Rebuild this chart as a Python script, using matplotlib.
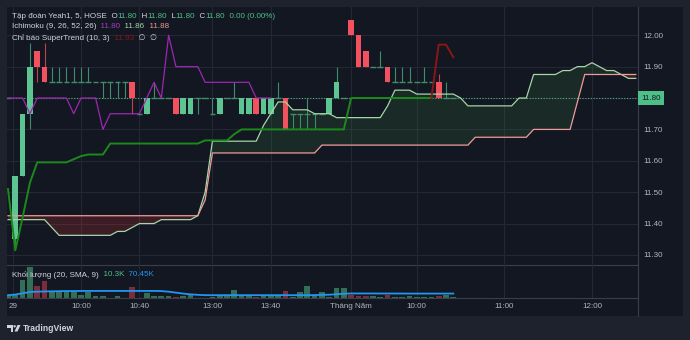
import matplotlib.pyplot as plt
import matplotlib.transforms as mtransforms
from matplotlib.patches import Rectangle, Polygon, Circle
import numpy as np

plt.rcParams['font.family'] = ['Liberation Sans', 'DejaVu Sans']

W, H = 690, 340

# 5 phut / nen, bar 0 = 29 thang 4 09:15, bar -1 = phien truoc
bar_idx = list(range(-1, 61))
opens = [11.80, 11.35, 11.55, 11.75, 11.95, 11.90, 11.85, 11.85, 11.85, 11.85, 11.85,
         11.85, 11.85, 11.85, 11.85, 11.85, 11.85, 11.85, 11.75, 11.75, 11.80, 11.80,
         11.80, 11.80, 11.75, 11.75, 11.80, 11.80, 11.75, 11.75, 11.80, 11.80, 11.75,
         11.75, 11.80, 11.75, 11.75, 11.80, 11.80, 11.75, 11.75, 11.75, 11.75, 11.75,
         11.75, 11.80, 11.80, 12.05, 12.00, 11.95, 11.90, 11.90, 11.90, 11.85, 11.85,
         11.85, 11.85, 11.85, 11.85, 11.85, 11.80, 11.80]
highs = [11.80, 11.55, 11.75, 11.975, 11.95, 11.975, 11.90, 11.90, 11.90, 11.90, 11.90,
         11.90, 11.85, 11.85, 11.85, 11.85, 11.85, 11.85, 11.75, 11.80, 11.85, 11.80,
         11.80, 11.80, 11.80, 11.80, 11.80, 11.80, 11.80, 11.80, 11.80, 11.85, 11.80,
         11.80, 11.80, 11.80, 11.80, 11.85, 11.80, 11.75, 11.75, 11.80, 11.75, 11.75,
         11.80, 11.90, 11.80, 12.05, 12.00, 11.95, 11.90, 11.95, 11.90, 11.90, 11.90,
         11.90, 11.85, 11.90, 11.85, 11.875, 11.85, 11.80]
lows = [11.80, 11.32, 11.55, 11.70, 11.85, 11.85, 11.85, 11.85, 11.85, 11.85, 11.85,
        11.85, 11.85, 11.80, 11.80, 11.80, 11.80, 11.75, 11.75, 11.75, 11.80, 11.80,
        11.80, 11.75, 11.75, 11.75, 11.75, 11.80, 11.75, 11.75, 11.80, 11.80, 11.75,
        11.75, 11.75, 11.75, 11.75, 11.80, 11.70, 11.70, 11.70, 11.70, 11.70, 11.75,
        11.75, 11.80, 11.80, 12.00, 11.90, 11.90, 11.90, 11.90, 11.85, 11.85, 11.85,
        11.85, 11.85, 11.85, 11.85, 11.80, 11.80, 11.80]
closes = [11.80, 11.55, 11.75, 11.90, 11.90, 11.85, 11.85, 11.85, 11.85, 11.85, 11.85,
          11.85, 11.85, 11.85, 11.85, 11.85, 11.85, 11.80, 11.75, 11.80, 11.80, 11.80,
          11.80, 11.75, 11.80, 11.80, 11.80, 11.80, 11.75, 11.80, 11.80, 11.80, 11.80,
          11.80, 11.75, 11.80, 11.80, 11.80, 11.70, 11.75, 11.75, 11.75, 11.75, 11.75,
          11.80, 11.85, 11.80, 12.00, 11.90, 11.90, 11.90, 11.90, 11.85, 11.85, 11.85,
          11.85, 11.85, 11.85, 11.85, 11.80, 11.80, 11.80]
volumes = [55, 70, 283, 486, 187, 267, 96, 96, 96, 96, 54, 96, 27, 27, 6, 27, 6, 171, 6,
           80, 32, 27, 27, 16, 27, 70, 6, 6, 16, 27, 32, 123, 27, 32, 16, 27, 54, 27, 107,
           16, 96, 187, 32, 96, 16, 160, 160, 54, 27, 27, 32, 16, 43, 16, 16, 27, 16, 16,
           16, 27, 54, 10.3]
vol_ma = [45, 55, 75, 95, 100, 104, 106, 108, 110, 110] + [112] * 11 + \
         [110, 100, 85, 70, 58, 50] + [45] * 15 + [46, 50, 52, 60, 68] + \
         [72] * 4 + [71] * 4 + [70] * 6 + [70.45]

# Ichimoku: span A / span B (dich 25 nen ve phia truoc), bar -1 .. 85
cloud_idx = list(range(-1, 86))
span_a = [11.4125] * 6 + [11.3875] + [11.3625] * 8 + [11.375] * 2 + [11.3875] + \
         [11.40] * 3 + [11.4125] * 5 + [11.425, 11.50] + [11.6625] * 7 + \
         [11.7125, 11.75, 11.7875, 11.7875] + [11.7625] * 3 + [11.75] * 3 + \
         [11.7375] * 7 + [11.775] + [11.825] * 3 + [11.8125] * 6 + [11.80] + \
         [11.775] * 7 + [11.80] * 2 + [11.875] * 4 + [11.8875] * 2 + [11.90] * 2 + \
         [11.9125, 11.90, 11.8875, 11.8875, 11.875, 11.8625, 11.8625]
span_b = [11.425] * 27 + [11.475] + [11.625] * 15 + [11.65] * 21 + [11.675] * 8 + \
         [11.70] * 6 + [11.7875] + [11.875] * 8

# SuperTrend (10, 3)
st_up_idx = list(range(-1, 58))
st_up = [11.51, 11.315, 11.42, 11.53] + [11.595] * 5 + [11.605, 11.615] + [11.62] * 3 + \
        [11.655] * 13 + [11.665] * 4 + [11.685] + [11.70] * 15 + [11.80] * 12
st_dn_idx = [57, 58, 59, 60]
st_dn = [11.80, 11.97, 11.97, 11.93]

price_ticks = [11.30, 11.40, 11.50, 11.60, 11.70, 11.80, 11.90, 12.00]
time_pos = [-0.25, 9, 17, 27, 35, 46, 55, 67, 79]
time_labels = ['29', '10:00', '10:40', '13:00', '13:40', 'Tháng Năm', '10:00', '11:00', '12:00']

BG = '#131722'
GRID = '#252935'
SEP = '#3a3e4a'
TXT = '#b2b5be'
UP, DOWN = '#5cc592', '#f2525f'
UP_W, DOWN_W = '#3f8d6a', '#c2404f'

fig = plt.figure(figsize=(W / 100, H / 100), dpi=100, facecolor='#1e222d')
# toa do pixel (goc tren trai)
pix = mtransforms.Affine2D().scale(1 / W, -1 / H).translate(0, 1) + fig.transFigure
fig.patches.append(Rectangle((7, 7), 676, 309, transform=pix, fc=BG, ec='none', zorder=-5))

ax = fig.add_axes([7 / W, 1 - 265 / H, 631 / W, 258 / H])
axv = fig.add_axes([7 / W, 1 - 298 / H, 631 / W, 33 / H], sharex=ax)
for a in (ax, axv):
    a.set_facecolor('none')
    for s in ('top', 'left'):
        a.spines[s].set_visible(False)
    a.spines['right'].set_color(SEP)
    a.spines['bottom'].set_color(SEP)
    a.spines['right'].set_linewidth(0.8)
    a.spines['bottom'].set_linewidth(0.8)

x = np.array(bar_idx)
o, h, l, c = (np.array(v) for v in (opens, highs, lows, closes))
up = c >= o
flat = c == o

# may (cloud)
cx = np.array(cloud_idx)
sa, sb = np.array(span_a), np.array(span_b)
ax.fill_between(cx, sa, sb, where=sa >= sb, interpolate=True, color='#43a047', alpha=0.14, lw=0, zorder=1)
ax.fill_between(cx, sa, sb, where=sa < sb, interpolate=True, color='#e53935', alpha=0.2, lw=0, zorder=1)
ax.plot(cx, sa, color='#a5d6a7', lw=0.9, zorder=5)
ax.plot(cx, sb, color='#ef9a9a', lw=0.9, zorder=5)

# nen
ax.vlines(x, l, h, colors=np.where(up, UP_W, DOWN_W), lw=0.8, zorder=3)
ax.bar(x[~flat], (c - o)[~flat], bottom=o[~flat], width=0.78,
       color=np.where(up, UP, DOWN)[~flat], zorder=4)
ax.hlines(c[flat], x[flat] - 0.39, x[flat] + 0.39, colors=UP_W, lw=1.0, zorder=4)

# lagging span = close dich lui 25 nen
ax.plot(x[:-25], c[25:], color='#9c27b0', lw=0.9, zorder=5)

ax.plot(st_up_idx, st_up, color='#1b8a1b', lw=1.4, zorder=6)
ax.plot(st_dn_idx, st_dn, color='#8b1616', lw=1.4, zorder=6)

ax.axhline(11.80, color='#4caf82', ls=(0, (1, 1.5)), lw=0.8, zorder=2)

ax.set_xlim(-1.14, 85.3)
ax.set_ylim(11.268, 12.090)
ax.set_yticks(price_ticks)
ax.set_yticklabels(['%.2f' % p if p != 11.80 else '' for p in price_ticks])
ax.yaxis.tick_right()
ax.tick_params(axis='y', length=0, pad=3.6, labelsize=5.8, labelcolor=TXT)
ax.tick_params(axis='x', length=0, labelbottom=False)
ax.grid(color=GRID, lw=0.7, zorder=0)
ax.set_axisbelow(True)

ax.annotate('11.80', xy=(1, 11.80), xycoords=('axes fraction', 'data'), xytext=(2.4, 0),
            textcoords='offset points', ha='left', va='center', fontsize=5.8, color=BG,
            bbox=dict(boxstyle='square,pad=0.4', fc='#4fbf8a', ec='none'),
            annotation_clip=False, zorder=10)

# khoi luong
vcol = np.where(up, '#336f57', '#7c2d3b')
axv.bar(x, volumes, width=0.78, color=vcol, zorder=2)
axv.plot(x, vol_ma, color='#2196f3', lw=1.3, zorder=3)
axv.set_ylim(0, 523)
axv.set_yticks([])
axv.set_xticks(time_pos)
axv.set_xticklabels(time_labels)
axv.tick_params(axis='x', length=0, pad=3.6, labelsize=5.8, labelcolor=TXT)
axv.grid(axis='x', color=GRID, lw=0.7, zorder=0)
axv.set_axisbelow(True)

fig.add_artist(plt.Line2D([638, 638], [298, 316], transform=pix, color=SEP, lw=0.8))


def legend(px, py, parts, size=5.8):
    # cac doan chu noi tiep nhau, moi doan mot mau
    t = fig.text(px, py, parts[0][0], color=parts[0][1], fontsize=size,
                 ha='left', va='center', transform=pix, zorder=20)
    for s, col in parts[1:]:
        a = plt.Annotation(s, xy=(1, 0.5), xycoords=t, ha='left', va='center',
                           fontsize=size, color=col, annotation_clip=False, zorder=20)
        fig.add_artist(a)
        t = a


G = '#4fbf8a'
L = '#d1d4dc'
legend(12, 16, [('Tập đoàn Yeah1, 5, HOSE', L), ('  O', L), ('11.80', G), ('  H', L), ('11.80', G),
                ('  L', L), ('11.80', G), ('  C', L), ('11.80', G), ('  0.00 (0.00%)', G)])
legend(12, 27, [('Ichimoku (9, 26, 52, 26)', L), ('  11.80', '#a53cc4'), ('  11.86', '#a5d6a7'),
                ('  11.88', '#ef9a9a')])
legend(12, 38, [('Chỉ báo SuperTrend (10, 3)', L), ('  11.93', '#8b1616'), ('  ∅  ∅', L)])
legend(12, 275, [('Khối lượng (20, SMA, 9)', L), ('  10.3K', G), ('  70.45K', '#2196f3')])

# logo TradingView
fig.patches.append(Polygon([(7, 325), (13, 325), (13, 331.5), (10.5, 331.5), (10.5, 327.5), (7, 327.5)],
                           closed=True, transform=pix, fc='#d1d4dc', ec='none'))
fig.patches.append(Circle((14.6, 326.3), 1.2, transform=pix, fc='#d1d4dc', ec='none'))
fig.patches.append(Polygon([(17.5, 325), (20.5, 325), (17.5, 331.5), (14.5, 331.5)],
                           closed=True, transform=pix, fc='#d1d4dc', ec='none'))
fig.text(23, 328.3, 'TradingView', transform=pix, fontsize=6.2, color='#d1d4dc',
         ha='left', va='center', fontweight='bold')

fig.savefig('out.png', dpi=100, facecolor=fig.get_facecolor())
